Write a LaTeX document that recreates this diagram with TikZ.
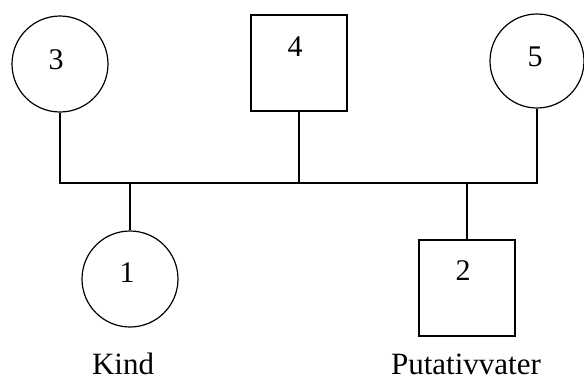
\documentclass[tikz,border=0pt]{standalone}
\usepackage{fontspec}
\setmainfont{Liberation Serif}
\usepackage{tikz}
\usetikzlibrary{positioning}

\begin{document}
\begin{tikzpicture}[y=-1pt,x=1pt,
	line width=1.2pt,
	female/.style={draw, circle, inner sep=0pt, minimum size=96pt},
	male/.style={draw, rectangle, inner sep=0pt, minimum size=96pt},
	num/.style={anchor=base, inner sep=0pt, font=\fontsize{30}{36}\selectfont},
	role/.style={anchor=base, inner sep=0pt, font=\fontsize{31}{37}\selectfont}]
	\useasboundingbox (0,0) rectangle (584,376);

	% parents
	\node[female] (n3) at (60,64) {};
	\node[male] (n4) at (299,63) {};
	\node[female, minimum size=94pt] (n5) at (537,61) {};

	% children
	\node[female] (n1) at (130,279) {};
	\node[male] (n2) at (467,288) {};

	\node[num] (n3text) at (56,69) {3};
	\node[num] (n4text) at (295,56) {4};
	\node[num] (n5text) at (535,66) {5};
	\node[num] (n1text) at (127,282) {1};
	\node[num] (n2text) at (463,280) {2};

	\node[role] (kind) at (123,374) {Kind};
	\node[role] (vater) at (466,374) {Putativvater};

	\coordinate (bar) at (0,183);
	\draw (n3.south) -- (n3.south |- bar) -- (n5.south |- bar) -- (n5.south);
	\draw (n4.south) -- (n4.south |- bar);
	\draw (n1.north) -- (n1.north |- bar);
	\draw (n2.north) -- (n2.north |- bar);
\end{tikzpicture}
\end{document}
